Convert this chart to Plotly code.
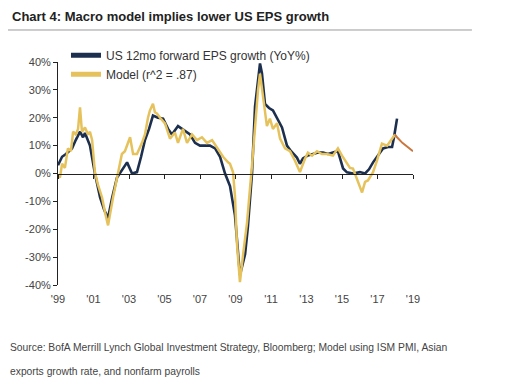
import plotly.graph_objects as go

# ---- data (decimal years, % YoY) ----
eps_t = [1999.0, 1999.23, 1999.45, 1999.79, 2000.0, 2000.24, 2000.41, 2000.52, 2000.8, 2001.08,
         2001.37, 2001.6, 2001.82, 2002.04, 2002.32, 2002.6, 2002.89, 2003.17, 2003.45, 2003.68,
         2003.9, 2004.13, 2004.35, 2004.63, 2004.92, 2005.2, 2005.42, 2005.76, 2006.1, 2006.44,
         2006.72, 2007.0, 2007.28, 2007.56, 2007.85, 2008.13, 2008.41, 2008.69, 2008.97, 2009.25,
         2009.54, 2009.7, 2009.93, 2010.1, 2010.38, 2010.49, 2010.66, 2010.89, 2011.11, 2011.39,
         2011.62, 2011.9, 2012.13, 2012.46, 2012.63, 2012.8, 2013.08, 2013.37, 2013.65, 2013.93,
         2014.21, 2014.49, 2014.77, 2015.06, 2015.28, 2015.62, 2016.01, 2016.3, 2016.52, 2016.75,
         2017.03, 2017.31, 2017.59, 2017.82, 2017.93, 2018.1]
eps_v = [3, 6, 7, 9, 12, 15, 13, 14.5, 10, 0,
         -8.6, -13, -16, -9, -1.5, 1, 4, 0, 0.5, 6,
         12, 16, 20.8, 20, 19.7, 16, 14, 17, 15.5, 14,
         11, 10, 10, 10, 9, 6, 0, -4.5, -15, -36.5,
         -29, -19, 0, 24, 39.5, 36, 25, 23.5, 22.6, 19,
         16.5, 10, 8, 5.7, 3.5, 5.4, 6.5, 7, 7.5, 7.5,
         7, 7.5, 8, 1.8, 0.4, 0, 0.5, 0, 1.5, 4,
         6.5, 9, 9.5, 9.5, 13, 19.7]

model_t = [1999.0, 1999.11, 1999.23, 1999.39, 1999.56, 1999.73, 1999.85, 2000.0, 2000.13, 2000.24,
           2000.35, 2000.52, 2000.69, 2000.8, 2000.92, 2001.08, 2001.25, 2001.48, 2001.65, 2001.82,
           2002.1, 2002.38, 2002.6, 2002.77, 2002.89, 2003.06, 2003.23, 2003.45, 2003.73, 2003.9,
           2004.07, 2004.18, 2004.35, 2004.46, 2004.58, 2004.75, 2005.03, 2005.31, 2005.59, 2005.76,
           2006.04, 2006.27, 2006.55, 2006.83, 2007.11, 2007.39, 2007.68, 2007.96, 2008.3, 2008.58,
           2008.69, 2008.86, 2008.97, 2009.08, 2009.25, 2009.42, 2009.65, 2009.93, 2010.1, 2010.27,
           2010.38, 2010.55, 2010.77, 2010.94, 2011.11, 2011.34, 2011.51, 2011.79, 2012.07, 2012.35,
           2012.63, 2012.92, 2013.08, 2013.31, 2013.59, 2013.87, 2014.15, 2014.49, 2014.77, 2015.0,
           2015.28, 2015.45, 2015.62, 2015.9, 2016.13, 2016.3, 2016.46, 2016.75, 2016.97, 2017.25,
           2017.54, 2017.82, 2017.99]
model_v = [-0.7, -1.5, 3.5, 2, 9, 8, 15, 14, 16, 23.7,
           15, 16.5, 14, 15, 12, 0.4, -4, -8.6, -14, -18.6,
           -8.6, 0, 7, 8, 10, 13, 7, 7, 11, 14,
           20, 22.6, 25, 22, 21.5, 20, 18, 12.5, 14.7, 11,
           16, 11, 14, 12, 13, 11, 12, 9.3, 6, 4,
           3.5, 0.5, -8, -25, -39, -29.5, -17.6, 3, 18, 30,
           35.8, 27, 17, 19.7, 16, 18, 12.5, 9, 8, 4.6,
           0.5, 5.4, 7.5, 6.4, 8, 7, 7, 6.4, 9, 6.4,
           3.5, 2, 1.8, -3, -6.8, -3, -2.5, 0.5, 4.6, 10.7,
           10, 12.5, 14]

proj_t = [2017.99, 2018.1, 2018.4, 2018.7, 2019.0]
proj_v = [14, 13, 11, 9.5, 8]

x_tickvals = [1999, 2001, 2003, 2005, 2007, 2009, 2011, 2013, 2015, 2017, 2019]
x_ticktext = ["'99", "'01", "'03", "'05", "'07", "'09", "'11", "'13", "'15", "'17", "'19"]
y_tickvals = [-40, -30, -20, -10, 0, 10, 20, 30, 40]
y_ticktext = ["-40%", "-30%", "-20%", "-10%", "0%", "10%", "20%", "30%", "40%"]

NAVY = "#1c2f4e"
GOLD = "#e5c25c"
ORANGE = "#c9773e"
FONT = "Liberation Sans, Arial, sans-serif"

fig = go.Figure()
fig.add_trace(go.Scatter(x=eps_t, y=eps_v, mode="lines", name="US 12mo forward EPS growth (YoY%)",
                         line=dict(color=NAVY, width=2.6)))
fig.add_trace(go.Scatter(x=model_t, y=model_v, mode="lines", name="Model (r^2 = .87)",
                         line=dict(color=GOLD, width=2.5)))
fig.add_trace(go.Scatter(x=proj_t, y=proj_v, mode="lines", showlegend=False,
                         line=dict(color=ORANGE, width=2)))
# helper trace for the zero-line axis with ticks
fig.add_trace(go.Scatter(x=[None], y=[None], xaxis="x2", showlegend=False, hoverinfo="skip"))

fig.update_layout(
    width=507, height=388, autosize=False,
    margin=dict(l=58, r=94, t=62, b=103),
    paper_bgcolor="white", plot_bgcolor="white",
    font=dict(family=FONT, size=11, color="#333"),
    showlegend=True,
    legend=dict(x=0.0225, y=1.095, xanchor="left", yanchor="top", bgcolor="rgba(0,0,0,0)",
                font=dict(size=12, color="#333"), tracegroupgap=0, itemsizing="constant"),
    xaxis=dict(range=[1999, 2019], tickvals=x_tickvals, ticktext=x_ticktext,
               showgrid=False, zeroline=False, showline=False,
               ticks="outside", ticklen=4, tickcolor="rgba(0,0,0,0)",
               tickfont=dict(size=11, color="#444")),
    xaxis2=dict(range=[1999, 2019], overlaying="x", anchor="free", position=0.5,
                tickvals=x_tickvals, showticklabels=False, showgrid=False, zeroline=False,
                showline=True, linecolor="#222", linewidth=1,
                ticks="outside", ticklen=4, tickcolor="#222"),
    yaxis=dict(range=[-40, 40], tickvals=y_tickvals, ticktext=y_ticktext,
               showgrid=False, zeroline=False, showline=True, linecolor="#222", linewidth=1,
               ticks="outside", ticklen=4, tickcolor="#222",
               tickfont=dict(size=11, color="#444")),
)

fig.add_annotation(text="<b>Chart 4: Macro model implies lower US EPS growth</b>", xref="paper", yref="paper",
                   x=-0.135, y=1.2018, xanchor="left", yanchor="middle", showarrow=False,
                   font=dict(family=FONT, size=13, color="#222"))
fig.add_shape(type="line", xref="paper", yref="paper", x0=-0.1408, x1=1.166, y0=1.1435, y1=1.1435,
              line=dict(color="#9a9a9a", width=1))
fig.add_annotation(text="Source: BofA Merrill Lynch Global Investment Strategy, Bloomberg; Model using ISM PMI, Asian",
                   xref="paper", yref="paper", x=-0.1408, y=-0.2825, xanchor="left", yanchor="middle",
                   showarrow=False, font=dict(size=10.3, color="#444"))
fig.add_annotation(text="exports growth rate, and nonfarm payrolls",
                   xref="paper", yref="paper", x=-0.1408, y=-0.39, xanchor="left", yanchor="middle",
                   showarrow=False, font=dict(size=10.3, color="#444"))

fig.write_html("out.html", config={"displayModeBar": False},
               post_script="document.body.style.margin='0px';")
